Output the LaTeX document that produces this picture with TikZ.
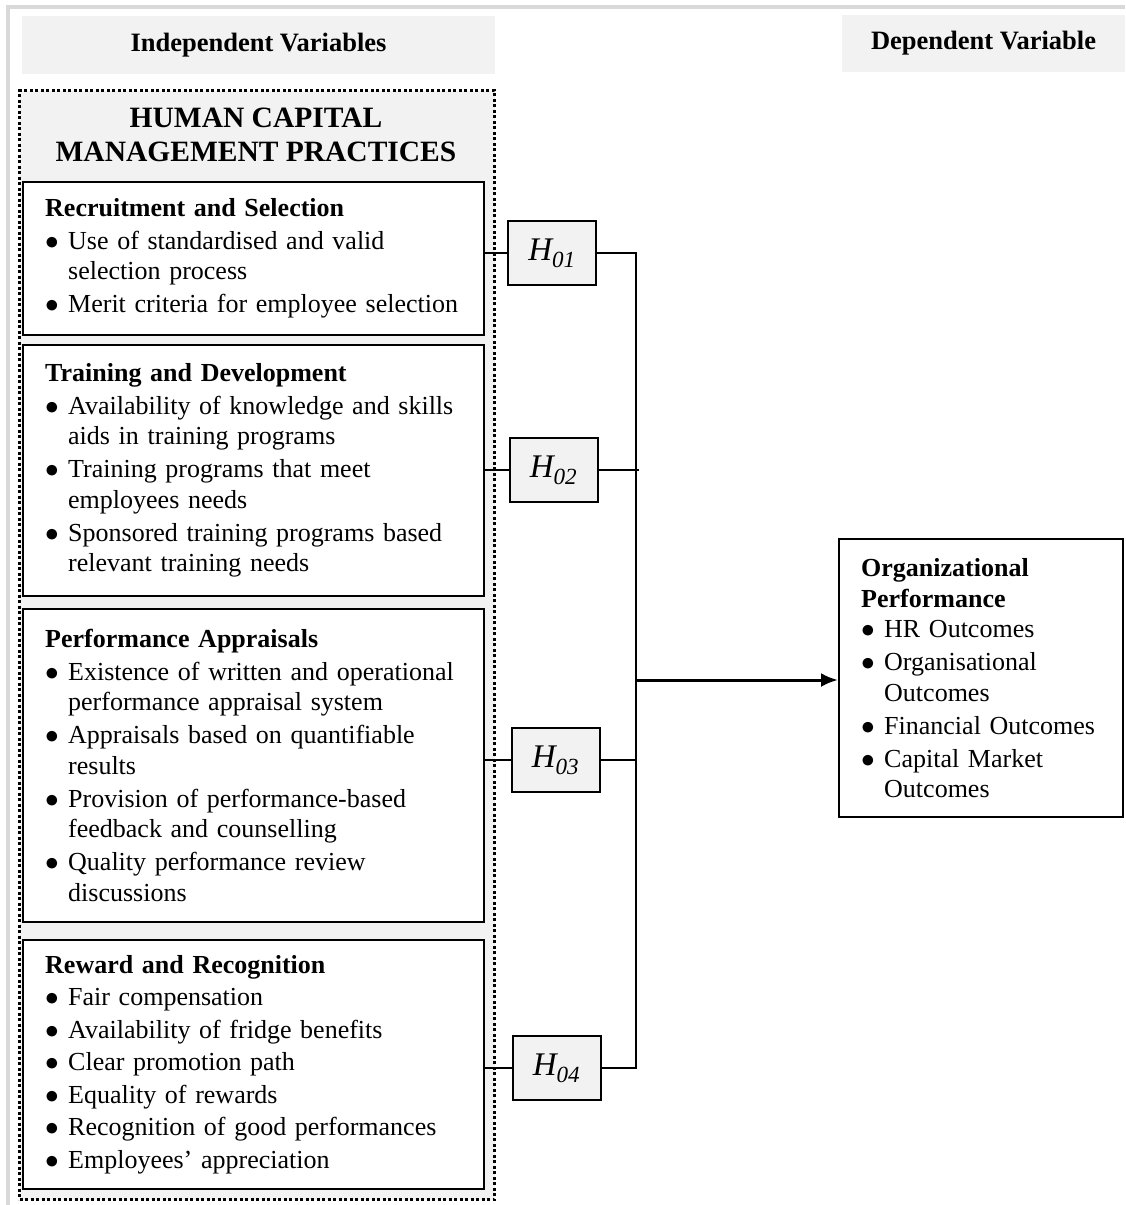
\documentclass[tikz,border=0pt]{standalone}
\usepackage{fontspec}
\setmainfont{Liberation Serif}
\usepackage{tikz}
\usetikzlibrary{positioning, arrows, arrows.meta}
\definecolor{panel}{HTML}{F2F2F2}
\definecolor{frameline}{HTML}{D9D9D9}
\newcommand{\bul}[1]{\mbox{\makebox[23pt][l]{\scalebox{1.1}{$\bullet$}}#1}}
\newcommand{\cnt}[1]{\mbox{\hspace*{23pt}#1}}

\begin{document}
\begin{tikzpicture}[x=1pt, y=-1pt, >=latex,
  every node/.style={font=\fontsize{26}{30.5}\selectfont},
  head/.style={fill=panel, font=\fontsize{26.5}{32}\selectfont\bfseries},
  box/.style={draw, line width=2.4pt, fill=white, anchor=north west, align=left, text width=417pt, inner xsep=22pt, inner ysep=0pt},
  hyp/.style={draw, line width=2pt, fill=panel, minimum width=88pt, minimum height=64pt, inner sep=0pt, font=\fontsize{33}{36}\selectfont\itshape},
  link/.style={line width=2pt}]

\useasboundingbox (0,0) rectangle (1125,1205);

% outer frame
\draw[frameline, line width=4pt] (1125,7) -- (8,7) -- (8,1205);

\node[head, minimum width=473pt, minimum height=58pt] (iv) at (258.5,45) {Independent Variables};
\node[head, minimum width=283pt, minimum height=57pt] (dv) at (983.5,43.5) {Dependent Variable};

% human capital block
\node[draw, line width=3.2pt, dash pattern=on 3pt off 2.5pt, fill=panel, anchor=north west, minimum width=475pt, minimum height=1109pt] (hcm) at (18,89) {};
\node[align=center, font=\fontsize{29.5}{34}\selectfont\bfseries] (title) at (256,135) {HUMAN CAPITAL\\MANAGEMENT PRACTICES};

\node[box, minimum height=153pt] (rec) at (22,181) {\textbf{Recruitment and Selection}\\[2pt]
\bul{Use of standardised and valid}\\
\cnt{selection process}\\[2.5pt]
\bul{Merit criteria for employee selection}};

\node[box, minimum height=251pt] (trn) at (22,344) {\textbf{Training and Development}\\[2pt]
\bul{Availability of knowledge and skills}\\
\cnt{aids in training programs}\\[2.5pt]
\bul{Training programs that meet}\\
\cnt{employees needs}\\[2.5pt]
\bul{Sponsored training programs based}\\
\cnt{relevant training needs}};

\node[box, minimum height=313pt] (app) at (22,608) {\textbf{Performance Appraisals}\\[2pt]
\bul{Existence of written and operational}\\
\cnt{performance appraisal system}\\[2.5pt]
\bul{Appraisals based on quantifiable}\\
\cnt{results}\\[2.5pt]
\bul{Provision of performance-based}\\
\cnt{feedback and counselling}\\[2.5pt]
\bul{Quality performance review}\\
\cnt{discussions}};

\node[box, minimum height=249pt] (rwd) at (22,939) {\textbf{Reward and Recognition}\\[2pt]
\bul{Fair compensation}\\[2pt]
\bul{Availability of fridge benefits}\\[2pt]
\bul{Clear promotion path}\\[2pt]
\bul{Equality of rewards}\\[2pt]
\bul{Recognition of good performances}\\[2pt]
\bul{Employees’ appreciation}};

% hypotheses
\node[hyp] (hyp1) at (552,253) {H\textsubscript{01}};
\node[hyp] (hyp2) at (553.5,470) {H\textsubscript{02}};
\node[hyp] (hyp3) at (555.5,760) {H\textsubscript{03}};
\node[hyp] (hyp4) at (556.5,1068) {H\textsubscript{04}};

\node[box, text width=240pt, minimum height=278pt] (out) at (838,538) {\textbf{Organizational}\\
\textbf{Performance}\\
\bul{HR Outcomes}\\[2.5pt]
\bul{Organisational}\\
\cnt{Outcomes}\\[2.5pt]
\bul{Financial Outcomes}\\[2.5pt]
\bul{Capital Market}\\
\cnt{Outcomes}};

\coordinate (jn) at (636,680);

\draw[link] (hyp1.west -| rec.east) -- (hyp1.west);
\draw[link] (hyp2.west -| trn.east) -- (hyp2.west);
\draw[link] (hyp3.west -| app.east) -- (hyp3.west);
\draw[link] (hyp4.west -| rwd.east) -- (hyp4.west);

\draw[link] (hyp1.east) -- (hyp1.east -| jn) -- (hyp4.east -| jn) -- (hyp4.east);
\draw[link] (hyp2.east) -- ([xshift=3pt]hyp2.east -| jn);
\draw[link] (hyp3.east) -- (hyp3.east -| jn);
\draw[-{Latex[length=17pt, width=14pt]}, line width=3pt] (jn) -- (jn -| out.west);

\end{tikzpicture}
\end{document}
